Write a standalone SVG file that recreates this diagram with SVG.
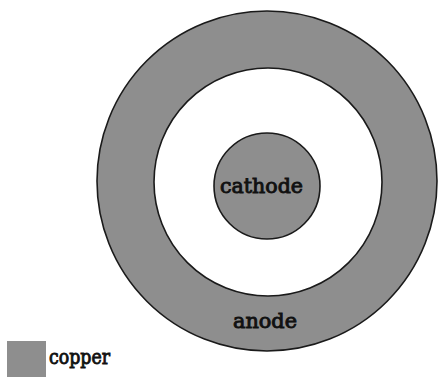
<svg xmlns="http://www.w3.org/2000/svg" width="441" height="379" viewBox="0 0 441 379">
<style>
.cu{fill:#8e8e8e;stroke:#1a1a1a;stroke-width:1.6}
.t{font-family:"DejaVu Serif","Liberation Serif",serif;font-size:20px;fill:#111;stroke:#111;stroke-width:0.9}
</style>
<rect width="441" height="379" fill="#fff"/>
<g id="anode">
<circle cx="267" cy="181" r="170" class="cu"/>
<circle cx="268" cy="182" r="114" fill="#fff" stroke="#1a1a1a" stroke-width="1.6"/>
<text x="233" y="328" class="t" textLength="64" lengthAdjust="spacingAndGlyphs">anode</text>
</g>
<g id="cathode">
<circle cx="267" cy="186" r="53" class="cu"/>
<text x="220" y="193" class="t" textLength="83" lengthAdjust="spacingAndGlyphs">cathode</text>
</g>
<g id="legend">
<rect x="7" y="341" width="39" height="36" fill="#8e8e8e"/>
<text x="49" y="364" class="t" textLength="61" lengthAdjust="spacingAndGlyphs">copper</text>
</g>
</svg>
